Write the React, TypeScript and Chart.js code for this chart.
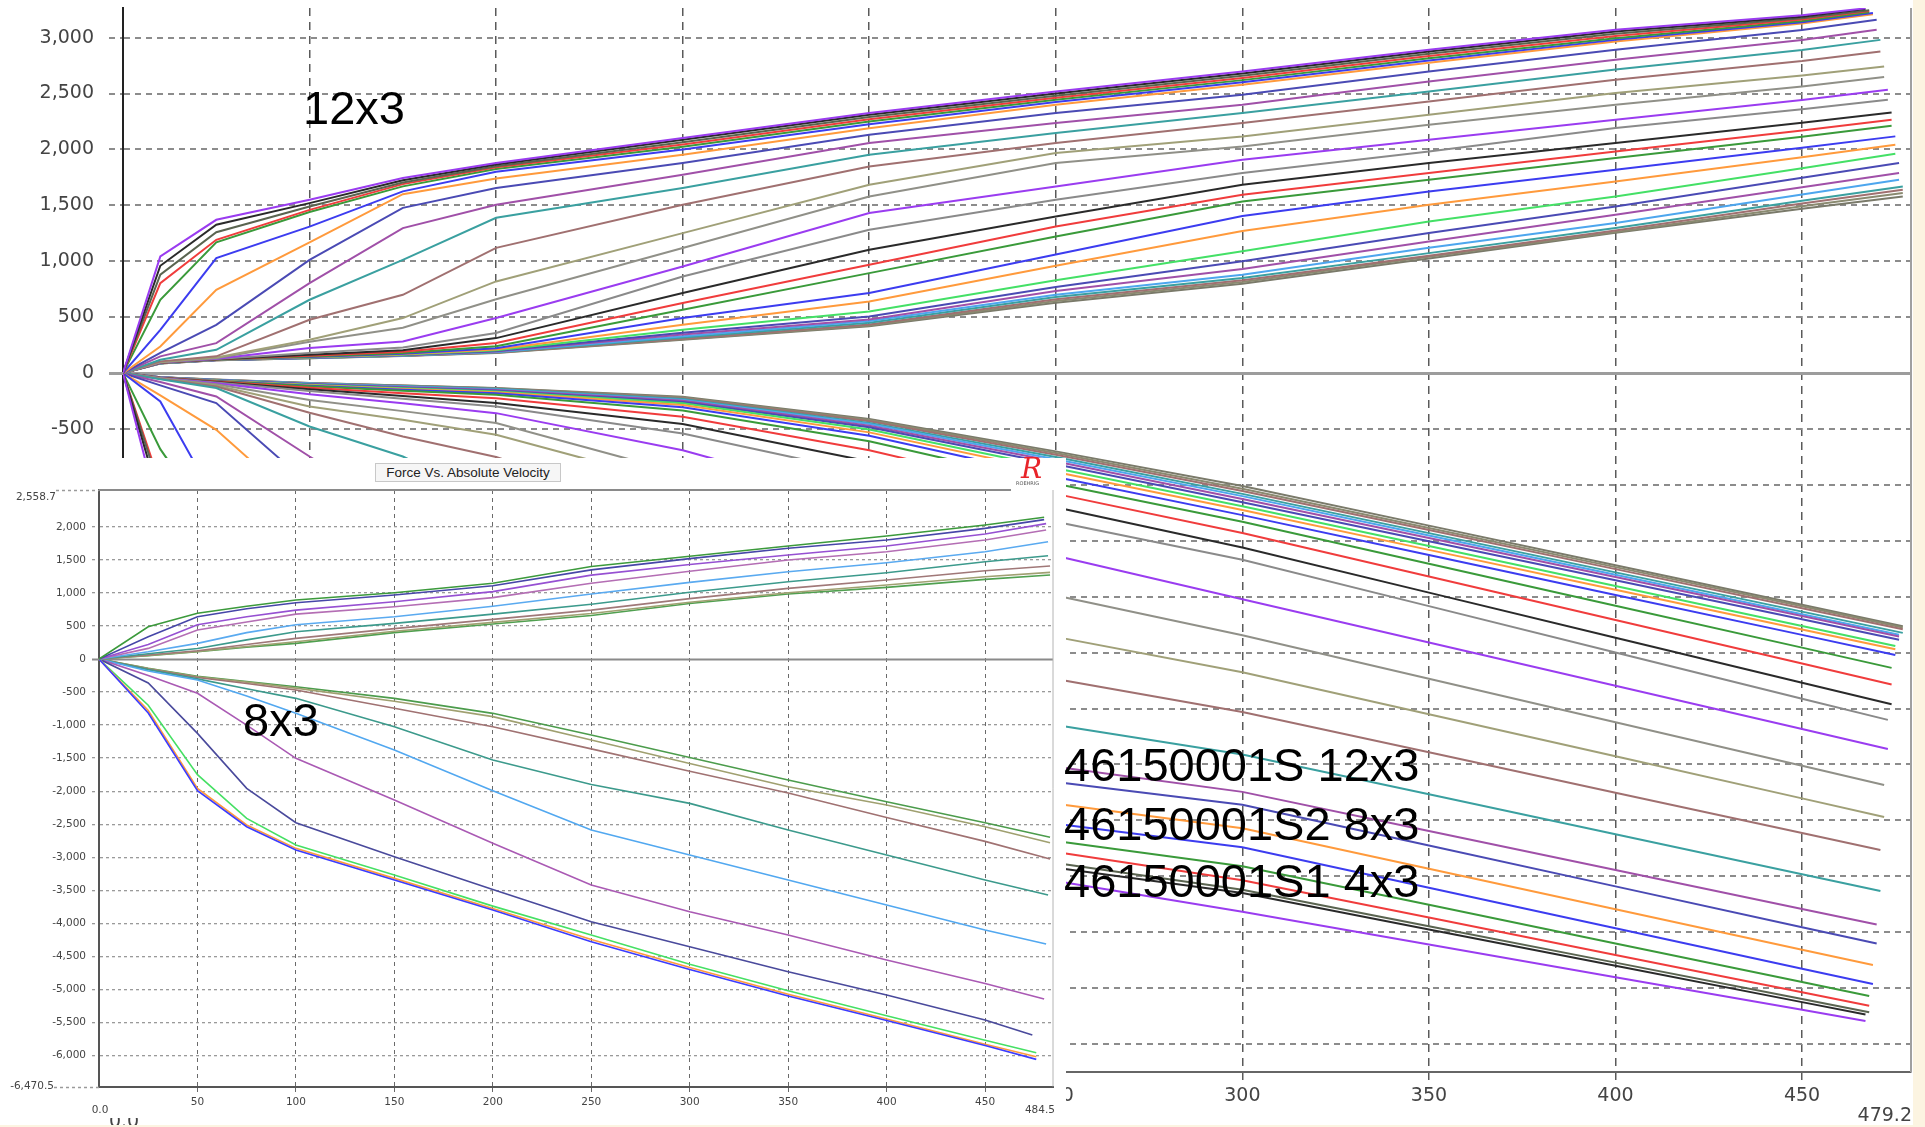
import React, { useEffect, useRef } from "react";
import { Chart, registerables } from "chart.js";

Chart.register(...registerables);

// ---------------- 12x3 (main chart) ----------------
const MAIN_VEL = [0, 10, 25, 50, 75, 100, 150, 200, 250, 300, 350, 400, 450];
const MAIN_END_VEL = [467, 467, 468, 468, 468, 469, 469, 470, 470, 471, 471, 472, 472, 473, 473, 474, 474, 474, 475, 475, 475, 476, 476, 476, 477, 477, 477, 477];
const MAIN_COLORS = [
  "#9a3cf0", "#2a2a2a", "#5a6450", "#f03c3c", "#3a9a3a", "#3c3cf0", "#ff9a3c",
  "#4a4ab4", "#a050a8", "#3aa0a0", "#a07070", "#a0a078", "#909088", "#9a3cf0",
  "#8a8a8a", "#2a2a2a", "#f03c3c", "#3a9a3a", "#3c3cf0", "#ff9a3c", "#44e066",
  "#4a4ab4", "#a050a8", "#4da6ee", "#3aa0a0", "#a07070", "#8a8a70", "#7a7a6a",
];
// compression force at MAIN_VEL + end velocity
const MAIN_COMP = [
  [0, 1043, 1371, 1550, 1744, 1878, 2102, 2326, 2519, 2698, 2892, 3071, 3200, 3262],
  [0, 960, 1327, 1520, 1725, 1865, 2087, 2310, 2500, 2680, 2875, 3055, 3187, 3255],
  [0, 880, 1260, 1490, 1705, 1850, 2065, 2290, 2480, 2660, 2855, 3035, 3174, 3245],
  [0, 805, 1192, 1460, 1690, 1840, 2045, 2270, 2462, 2640, 2835, 3015, 3162, 3237],
  [0, 656, 1170, 1440, 1670, 1825, 2025, 2250, 2445, 2620, 2815, 2995, 3149, 3228],
  [0, 387, 1029, 1310, 1625, 1800, 2000, 2225, 2425, 2600, 2795, 2980, 3138, 3220],
  [0, 238, 745, 1170, 1600, 1740, 1953, 2190, 2400, 2579, 2775, 2966, 3127, 3210],
  [0, 181, 432, 1013, 1478, 1655, 1878, 2131, 2326, 2489, 2698, 2892, 3069, 3160],
  [0, 150, 268, 805, 1297, 1505, 1774, 2057, 2236, 2400, 2608, 2803, 2979, 3070],
  [0, 120, 208, 656, 1013, 1389, 1655, 1953, 2147, 2326, 2519, 2714, 2890, 2980],
  [0, 105, 150, 477, 700, 1120, 1505, 1848, 2057, 2236, 2429, 2623, 2790, 2876],
  [0, 100, 140, 298, 492, 820, 1252, 1684, 1968, 2116, 2310, 2504, 2661, 2742],
  [0, 98, 132, 281, 405, 660, 1118, 1580, 1878, 2027, 2221, 2400, 2563, 2647],
  [0, 96, 128, 224, 283, 492, 953, 1431, 1669, 1908, 2087, 2266, 2443, 2534],
  [0, 95, 126, 180, 230, 358, 864, 1282, 1550, 1789, 1982, 2191, 2359, 2445],
  [0, 94, 124, 165, 205, 313, 716, 1103, 1401, 1684, 1878, 2057, 2238, 2331],
  [0, 93, 123, 155, 190, 270, 626, 969, 1311, 1595, 1789, 1982, 2169, 2266],
  [0, 92, 122, 148, 180, 240, 566, 894, 1222, 1535, 1729, 1923, 2114, 2212],
  [0, 91, 121, 145, 172, 222, 492, 716, 1060, 1405, 1624, 1818, 2015, 2117],
  [0, 90, 120, 142, 168, 212, 432, 640, 960, 1270, 1505, 1714, 1930, 2042],
  [0, 89, 119, 140, 165, 205, 387, 551, 830, 1090, 1356, 1580, 1832, 1962],
  [0, 89, 118, 138, 162, 198, 360, 506, 770, 1000, 1252, 1490, 1746, 1878],
  [0, 88, 118, 137, 160, 193, 345, 480, 735, 930, 1177, 1416, 1662, 1789],
  [0, 88, 117, 136, 158, 189, 330, 465, 700, 880, 1120, 1342, 1597, 1729],
  [0, 87, 117, 135, 157, 186, 318, 450, 680, 850, 1073, 1297, 1542, 1669],
  [0, 87, 116, 134, 156, 184, 308, 435, 660, 830, 1050, 1275, 1516, 1640],
  [0, 86, 116, 133, 155, 182, 302, 425, 645, 815, 1040, 1262, 1492, 1610],
  [0, 86, 115, 132, 154, 180, 298, 420, 630, 800, 1025, 1255, 1470, 1580],
];
// rebound force at MAIN_VEL + end velocity
const MAIN_REB = [
  [0, -1300, -1900, -2500, -2950, -3300, -3800, -4200, -4542, -4817, -5110, -5402, -5694, -5794],
  [0, -1150, -1780, -2400, -2850, -3210, -3700, -4090, -4424, -4650, -4975, -5300, -5625, -5736],
  [0, -1050, -1720, -2360, -2800, -3160, -3650, -4040, -4380, -4620, -4946, -5272, -5598, -5715],
  [0, -1000, -1650, -2300, -2750, -3100, -3580, -3950, -4283, -4535, -4869, -5203, -5537, -5657],
  [0, -680, -1400, -2100, -2600, -2950, -3450, -3830, -4185, -4410, -4755, -5100, -5445, -5570],
  [0, -254, -1150, -1900, -2400, -2750, -3250, -3650, -4030, -4240, -4602, -4964, -5326, -5463],
  [0, -200, -507, -1250, -1850, -2250, -2850, -3350, -3852, -4070, -4432, -4794, -5156, -5293],
  [0, -110, -268, -1000, -1550, -1950, -2550, -3100, -3656, -3860, -4225, -4590, -4955, -5100],
  [0, -80, -209, -746, -1250, -1650, -2250, -2850, -3520, -3745, -4094, -4443, -4792, -4931],
  [0, -55, -134, -477, -746, -1150, -1900, -2600, -3146, -3410, -3767, -4124, -4481, -4632],
  [0, -50, -120, -355, -567, -750, -1300, -1980, -2735, -3030, -3391, -3752, -4113, -4265],
  [0, -48, -110, -298, -418, -552, -1000, -1650, -2359, -2675, -3051, -3427, -3803, -3969],
  [0, -46, -100, -240, -340, -447, -900, -1580, -1989, -2345, -2734, -3123, -3512, -3683],
  [0, -45, -90, -190, -270, -358, -690, -1150, -1634, -2022, -2409, -2796, -3183, -3361],
  [0, -44, -85, -160, -230, -298, -540, -900, -1330, -1670, -2084, -2498, -2912, -3101],
  [0, -43, -80, -145, -205, -268, -455, -790, -1200, -1560, -1963, -2366, -2769, -2962],
  [0, -42, -76, -130, -180, -224, -390, -690, -1080, -1430, -1819, -2208, -2597, -2785],
  [0, -41, -72, -118, -158, -194, -335, -610, -990, -1330, -1705, -2080, -2455, -2636],
  [0, -40, -70, -112, -148, -180, -305, -560, -930, -1270, -1627, -1984, -2341, -2520],
  [0, -40, -68, -108, -142, -172, -285, -530, -885, -1225, -1581, -1937, -2293, -2470],
  [0, -39, -66, -104, -136, -165, -270, -505, -850, -1190, -1547, -1904, -2261, -2440],
  [0, -39, -64, -100, -130, -158, -258, -485, -815, -1155, -1504, -1853, -2202, -2385],
  [0, -38, -63, -97, -125, -152, -248, -470, -790, -1125, -1474, -1823, -2172, -2355],
  [0, -38, -62, -94, -120, -146, -240, -455, -770, -1100, -1452, -1804, -2156, -2340],
  [0, -37, -61, -92, -116, -140, -232, -445, -750, -1080, -1431, -1782, -2133, -2323],
  [0, -37, -60, -90, -113, -137, -225, -430, -730, -1055, -1404, -1753, -2102, -2290],
  [0, -36, -59, -89, -111, -135, -218, -420, -715, -1035, -1385, -1735, -2085, -2275],
  [0, -36, -58, -88, -110, -134, -212, -410, -700, -1010, -1364, -1718, -2072, -2264],
];
const MAIN_X_TICKS = [0, 50, 100, 150, 200, 250, 300, 350, 400, 450];
const MAIN_Y_TICKS = [-6000, -5500, -5000, -4500, -4000, -3500, -3000, -2500, -2000, -1500, -1000, -500, 0, 500, 1000, 1500, 2000, 2500, 3000];
const MAIN_X_MAX = 479.2;
const MAIN_Y_MIN = -6250;
const MAIN_Y_MAX = 3265;

// ---------------- 8x3 (inset chart) ----------------
const INSET_VEL = [0, 25, 50, 75, 100, 150, 200, 250, 300, 350, 400, 450];
const INSET_COMP_END_VEL = [480, 480, 481, 481, 482, 482, 483, 483, 483];
const INSET_COMP_COLORS = ["#3c9a3c", "#4646a8", "#9650d2", "#b46eb4", "#5aaaf0", "#3c9a8c", "#a07878", "#a0a072", "#50a050"];
const INSET_COMP = [
  [0, 489, 692, 800, 893, 1004, 1146, 1400, 1555, 1711, 1862, 2028, 2145],
  [0, 338, 641, 760, 853, 969, 1110, 1350, 1520, 1676, 1801, 1978, 2110],
  [0, 220, 520, 640, 740, 868, 1020, 1270, 1430, 1574, 1711, 1892, 2050],
  [0, 161, 439, 560, 680, 792, 930, 1146, 1330, 1499, 1625, 1801, 1953],
  [0, 110, 237, 400, 520, 641, 800, 984, 1160, 1322, 1458, 1625, 1776],
  [0, 80, 160, 290, 414, 540, 680, 830, 1010, 1170, 1307, 1473, 1564],
  [0, 60, 125, 220, 313, 460, 600, 740, 915, 1070, 1196, 1337, 1408],
  [0, 55, 115, 190, 262, 420, 555, 690, 860, 1004, 1120, 1246, 1312],
  [0, 52, 110, 180, 237, 400, 530, 660, 840, 984, 1085, 1206, 1272],
];
const INSET_REB_END_VEL = [476, 476, 476, 474, 480, 481, 482, 483, 483, 483];
const INSET_REB_COLORS = ["#3c3cff", "#ff9a3c", "#46e064", "#4a4a9c", "#aa5ab4", "#52a8f0", "#3c9a8c", "#a07272", "#a0a070", "#4c9c4c"];
const INSET_REB = [
  [0, -817, -1993, -2538, -2891, -3345, -3800, -4279, -4700, -5100, -5470, -5850, -6060],
  [0, -780, -1958, -2512, -2866, -3320, -3775, -4244, -4670, -5075, -5450, -5830, -6020],
  [0, -700, -1750, -2412, -2816, -3270, -3740, -4177, -4620, -5020, -5400, -5770, -5959],
  [0, -363, -1125, -1958, -2478, -2992, -3487, -3977, -4355, -4733, -5086, -5465, -5692],
  [0, -250, -519, -1000, -1503, -2134, -2790, -3420, -3825, -4178, -4557, -4910, -5147],
  [0, -180, -318, -560, -822, -1377, -1993, -2588, -2967, -3345, -3724, -4102, -4314],
  [0, -160, -300, -450, -595, -1024, -1529, -1900, -2185, -2588, -2967, -3345, -3573],
  [0, -150, -280, -370, -469, -746, -1024, -1360, -1700, -2029, -2400, -2760, -3028],
  [0, -145, -268, -350, -440, -640, -872, -1225, -1580, -1933, -2210, -2538, -2780],
  [0, -140, -260, -340, -419, -595, -822, -1150, -1490, -1832, -2160, -2478, -2699],
];
const INSET_X_TICKS = [50, 100, 150, 200, 250, 300, 350, 400, 450];
const INSET_Y_TICKS = [-6000, -5500, -5000, -4500, -4000, -3500, -3000, -2500, -2000, -1500, -1000, -500, 0, 500, 1000, 1500, 2000];
const INSET_X_MAX = 484.5;
const INSET_Y_MIN = -6470.5;
const INSET_Y_MAX = 2558.7;

const INSET_TITLE = "Force Vs. Absolute Velocity";
const NOTE_MAIN = "12x3";
const NOTE_INSET = "8x3";
const NOTE_LINES = ["46150001S 12x3", "46150001S2 8x3", "46150001S1 4x3"];

const FONT = "DejaVu Sans";

function series(vel: number[], endVel: number, forces: number[]) {
  const xs = [...vel, endVel];
  return xs.map((x, j) => ({ x, y: forces[j] }));
}

function fmt1(v: number) {
  return v.toLocaleString("en-US", { minimumFractionDigits: 1, maximumFractionDigits: 1 });
}

type FrameCfg = {
  zeroColor: string;
  zeroWidth: number;
  zeroExtend: number;
  rightColor?: string;
  rightWidth?: number;
  topColor?: string;
  topWidth?: number;
  topCut?: number;
  labels: { text: string; at: string; dx: number; dy: number; align: CanvasTextAlign; font: string; color: string }[];
  leaders?: { at: string; fromDx: number; color: string; dash: number[]; width: number }[];
};

function makeFrame(cfg: FrameCfg) {
  return {
    id: "frame",
    beforeDatasetsDraw(chart: any) {
      const { ctx, chartArea: ca } = chart;
      const y = chart.scales.y;
      ctx.save();
      ctx.setLineDash([]);
      const y0 = Math.round(y.getPixelForValue(0)) + 0.5;
      ctx.strokeStyle = cfg.zeroColor;
      ctx.lineWidth = cfg.zeroWidth;
      ctx.beginPath();
      ctx.moveTo(ca.left - cfg.zeroExtend, y0);
      ctx.lineTo(ca.right, y0);
      ctx.stroke();
      if (cfg.rightColor) {
        ctx.strokeStyle = cfg.rightColor;
        ctx.lineWidth = cfg.rightWidth || 1;
        ctx.beginPath();
        ctx.moveTo(ca.right, ca.top);
        ctx.lineTo(ca.right, ca.bottom);
        ctx.stroke();
      }
      if (cfg.topColor) {
        ctx.strokeStyle = cfg.topColor;
        ctx.lineWidth = cfg.topWidth || 1;
        ctx.beginPath();
        ctx.moveTo(ca.left, ca.top);
        ctx.lineTo(ca.right - (cfg.topCut || 0), ca.top);
        ctx.stroke();
      }
      ctx.restore();
    },
    afterDraw(chart: any) {
      const { ctx, chartArea: ca } = chart;
      const xs = chart.scales.x;
      const ys = chart.scales.y;
      const anchor = (at: string) => {
        if (at === "xmin") return [xs.getPixelForValue(xs.min), ca.bottom];
        if (at === "xmax") return [xs.getPixelForValue(xs.max), ca.bottom];
        if (at === "ymin") return [ca.left, ys.getPixelForValue(ys.min)];
        return [ca.left, ys.getPixelForValue(ys.max)];
      };
      ctx.save();
      for (const l of cfg.leaders || []) {
        const [ax, ay] = anchor(l.at);
        ctx.strokeStyle = l.color;
        ctx.lineWidth = l.width;
        ctx.setLineDash(l.dash);
        ctx.beginPath();
        ctx.moveTo(ax + l.fromDx, Math.round(ay) + 0.5);
        ctx.lineTo(ax, Math.round(ay) + 0.5);
        ctx.stroke();
      }
      ctx.setLineDash([]);
      for (const l of cfg.labels) {
        const [ax, ay] = anchor(l.at);
        ctx.font = l.font;
        ctx.fillStyle = l.color;
        ctx.textAlign = l.align;
        ctx.textBaseline = "middle";
        ctx.fillText(l.text, ax + l.dx, ay + l.dy);
      }
      ctx.restore();
    },
  };
}

function mainConfig(): any {
  const datasets: any[] = [];
  MAIN_COMP.forEach((f, i) =>
    datasets.push({ data: series(MAIN_VEL, MAIN_END_VEL[i], f), borderColor: MAIN_COLORS[i] })
  );
  MAIN_REB.forEach((f, i) =>
    datasets.push({ data: series(MAIN_VEL, MAIN_END_VEL[i], f), borderColor: MAIN_COLORS[i] })
  );
  datasets.forEach((d) => Object.assign(d, { borderWidth: 2, pointRadius: 0, tension: 0, fill: false }));
  return {
    type: "line",
    data: { datasets },
    options: {
      animation: false,
      responsive: false,
      maintainAspectRatio: false,
      events: [],
      layout: { padding: { left: 0, top: 8, right: 2, bottom: 0 } },
      plugins: { legend: { display: false }, tooltip: { enabled: false }, title: { display: false } },
      scales: {
        x: {
          type: "linear",
          min: 0,
          max: MAIN_X_MAX,
          afterBuildTicks: (s: any) => { s.ticks = MAIN_X_TICKS.map((v) => ({ value: v })); },
          afterFit: (s: any) => { s.height = 53; s.paddingLeft = 0; s.paddingRight = 0; },
          grid: { color: "#5a5a5a", lineWidth: 1.5, tickLength: 8, tickBorderDash: [8, 6] },
          border: { display: true, color: "#666", width: 2, dash: [8, 6] },
          ticks: { font: { family: FONT, size: 19 }, color: "#444", padding: 5, maxRotation: 0, autoSkip: false, callback: (v: any) => String(v) },
        },
        y: {
          type: "linear",
          min: MAIN_Y_MIN,
          max: MAIN_Y_MAX,
          afterBuildTicks: (s: any) => { s.ticks = MAIN_Y_TICKS.map((v) => ({ value: v })); },
          afterFit: (s: any) => { s.width = 123; s.paddingTop = 0; s.paddingBottom = 0; },
          grid: {
            color: (c: any) => (c.tick && c.tick.value === 0 ? "rgba(0,0,0,0)" : "#8c8c8c"),
            lineWidth: 2,
            tickLength: 14,
            tickBorderDash: [6, 5],
          },
          border: { display: true, color: "#222", width: 2, dash: [6, 5] },
          ticks: { font: { family: FONT, size: 19 }, color: "#444", padding: 15, autoSkip: false, callback: (v: any) => Number(v).toLocaleString("en-US") },
        },
      },
    },
    plugins: [
      makeFrame({
        zeroColor: "#9c9c9c",
        zeroWidth: 3,
        zeroExtend: 14,
        rightColor: "#a0a0a0",
        rightWidth: 2,
        labels: [
          { text: fmt1(0), at: "xmin", dx: 1, dy: 50, align: "center", font: `19px "${FONT}"`, color: "#444" },
          { text: fmt1(MAIN_X_MAX), at: "xmax", dx: 1, dy: 44, align: "right", font: `19px "${FONT}"`, color: "#444" },
        ],
      }),
    ],
  };
}

function insetConfig(): any {
  const datasets: any[] = [];
  INSET_COMP.forEach((f, i) =>
    datasets.push({ data: series(INSET_VEL, INSET_COMP_END_VEL[i], f), borderColor: INSET_COMP_COLORS[i] })
  );
  INSET_REB.forEach((f, i) =>
    datasets.push({ data: series(INSET_VEL, INSET_REB_END_VEL[i], f), borderColor: INSET_REB_COLORS[i] })
  );
  datasets.forEach((d) => Object.assign(d, { borderWidth: 1.6, pointRadius: 0, tension: 0, fill: false }));
  const small = `10.5px "${FONT}"`;
  return {
    type: "line",
    data: { datasets },
    options: {
      animation: false,
      responsive: false,
      maintainAspectRatio: false,
      events: [],
      layout: { padding: { left: 0, top: 32, right: 13, bottom: 0 } },
      plugins: { legend: { display: false }, tooltip: { enabled: false }, title: { display: false } },
      scales: {
        x: {
          type: "linear",
          min: 0,
          max: INSET_X_MAX,
          afterBuildTicks: (s: any) => { s.ticks = INSET_X_TICKS.map((v) => ({ value: v })); },
          afterFit: (s: any) => { s.height = 31.5; s.paddingLeft = 0; s.paddingRight = 0; },
          grid: { color: "#6a6a6a", lineWidth: 1, tickLength: 6, tickBorderDash: [4, 4] },
          border: { display: true, color: "#555", width: 2, dash: [4, 4] },
          ticks: { font: { family: FONT, size: 10.5 }, color: "#444", padding: 3, maxRotation: 0, autoSkip: false, callback: (v: any) => String(v) },
        },
        y: {
          type: "linear",
          min: INSET_Y_MIN,
          max: INSET_Y_MAX,
          afterBuildTicks: (s: any) => { s.ticks = INSET_Y_TICKS.map((v) => ({ value: v })); },
          afterFit: (s: any) => { s.width = 99; s.paddingTop = 0; s.paddingBottom = 0; },
          grid: {
            color: (c: any) => (c.tick && c.tick.value === 0 ? "rgba(0,0,0,0)" : "#9a9a9a"),
            lineWidth: 1.3,
            tickLength: 7,
            tickBorderDash: [3, 3],
          },
          border: { display: true, color: "#555", width: 2, dash: [3, 3] },
          ticks: { font: { family: FONT, size: 10.5 }, color: "#444", padding: 6, autoSkip: false, callback: (v: any) => Number(v).toLocaleString("en-US") },
        },
      },
    },
    plugins: [
      makeFrame({
        zeroColor: "#8a8a8a",
        zeroWidth: 2,
        zeroExtend: 7,
        rightColor: "#b4b4b4",
        rightWidth: 1,
        topColor: "#8a8a8a",
        topWidth: 2,
        topCut: 42,
        leaders: [
          { at: "ymax", fromDx: -43, color: "#9a9a9a", dash: [3, 3], width: 1.3 },
          { at: "ymin", fromDx: -45, color: "#9a9a9a", dash: [3, 3], width: 1.3 },
        ],
        labels: [
          { text: fmt1(INSET_Y_MAX), at: "ymax", dx: -43, dy: 7, align: "right", font: small, color: "#444" },
          { text: fmt1(INSET_Y_MIN), at: "ymin", dx: -45, dy: 0, align: "right", font: small, color: "#444" },
          { text: fmt1(0), at: "xmin", dx: 1, dy: 24, align: "center", font: small, color: "#444" },
          { text: fmt1(INSET_X_MAX), at: "xmax", dx: 2, dy: 24, align: "right", font: small, color: "#444" },
        ],
      }),
    ],
  };
}

const bigText: React.CSSProperties = {
  position: "absolute",
  fontFamily: '"Liberation Sans", Arial, sans-serif',
  fontSize: 47,
  lineHeight: "47px",
  color: "#000",
  whiteSpace: "nowrap",
};

export default function App() {
  const mainRef = useRef<HTMLCanvasElement>(null);
  const insetRef = useRef<HTMLCanvasElement>(null);

  useEffect(() => {
    const main = new Chart(mainRef.current as HTMLCanvasElement, mainConfig());
    const inset = new Chart(insetRef.current as HTMLCanvasElement, insetConfig());
    return () => {
      main.destroy();
      inset.destroy();
    };
  }, []);

  return (
    <div style={{ position: "fixed", left: 0, top: 0, width: 1925, height: 1127, background: "#fcf4e1", overflow: "hidden" }}>
      <canvas
        ref={mainRef}
        width={1913}
        height={1125}
        style={{ position: "absolute", left: 0, top: 0, width: 1913, height: 1125, background: "#fff", display: "block" }}
      />
      <div style={{ position: "absolute", left: 0, top: 458, width: 1066, height: 660, background: "#fff" }}>
        <canvas
          ref={insetRef}
          width={1066}
          height={660}
          style={{ position: "absolute", left: 0, top: 0, width: 1066, height: 660, display: "block" }}
        />
        <div
          style={{
            position: "absolute",
            left: 375,
            top: 5,
            width: 184,
            height: 17,
            border: "1px solid #c8c8c8",
            background: "#f6f6f6",
            fontFamily: '"Liberation Sans", Arial, sans-serif',
            fontSize: 13.5,
            lineHeight: "17px",
            textAlign: "center",
            color: "#222",
            whiteSpace: "nowrap",
          }}
        >
          {INSET_TITLE}
        </div>
        <div
          style={{
            position: "absolute",
            left: 1021,
            top: -3,
            fontFamily: '"DejaVu Serif", serif',
            fontStyle: "italic",
            fontSize: 28,
            lineHeight: "28px",
            color: "#e8242a",
          }}
        >
          R
        </div>
        <div
          style={{
            position: "absolute",
            left: 1016,
            top: 23,
            fontFamily: '"DejaVu Sans", sans-serif',
            fontSize: 5,
            lineHeight: "5px",
            color: "#555",
            whiteSpace: "nowrap",
          }}
        >
          ROEHRIG
        </div>
      </div>
      <div style={{ ...bigText, left: 303, top: 84 }}>{NOTE_MAIN}</div>
      <div style={{ ...bigText, left: 243, top: 696 }}>{NOTE_INSET}</div>
      {NOTE_LINES.map((t, i) => (
        <div key={t} style={{ ...bigText, left: 1064, top: [741, 800, 857][i] }}>
          {t}
        </div>
      ))}
    </div>
  );
}
